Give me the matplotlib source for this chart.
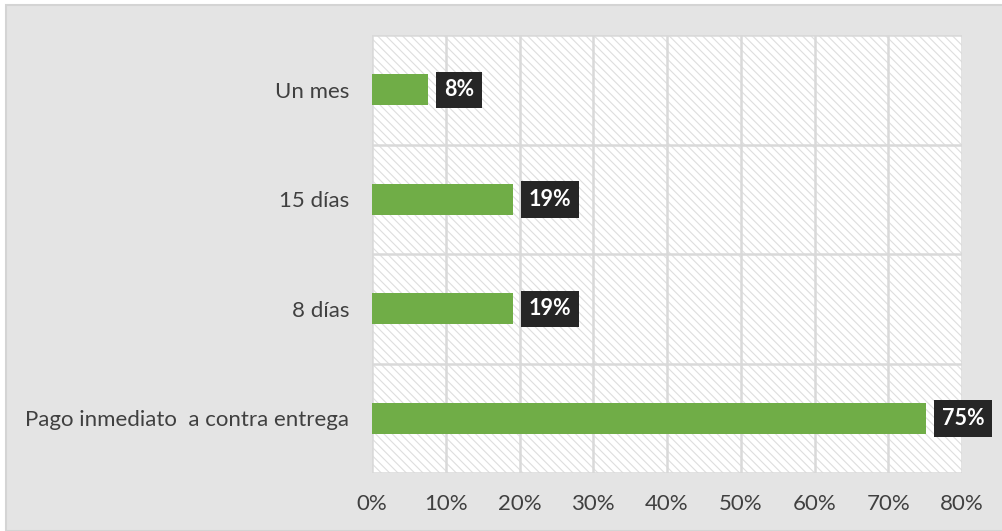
import matplotlib.pyplot as plt
from matplotlib.patches import Rectangle

categories = ['Pago inmediato  a contra entrega', '8 días', '15 días', 'Un mes']
values = [75.1, 19.1, 19.1, 7.6]
labels = ['75%', '19%', '19%', '8%']
xticks = [0, 10, 20, 30, 40, 50, 60, 70, 80]

plt.rcParams['font.family'] = ['Lato', 'DejaVu Sans']

fig = plt.figure(figsize=(10.03, 5.31), dpi=100, facecolor='white')
# gray chart area with thin border
fig.patches.append(Rectangle((6 / 1003, 0), 1, 1 - 5 / 531, transform=fig.transFigure,
                             facecolor='#e4e4e4', edgecolor='#d4d4d4', lw=1.5, zorder=-10))

ax = fig.add_axes([372 / 1003, 1 - 473 / 531, 590 / 1003, 438 / 531])
ax.set_facecolor('white')
plt.rcParams['hatch.linewidth'] = 0.8
ax.add_patch(Rectangle((0, 0), 1, 1, transform=ax.transAxes, facecolor='white',
                       edgecolor='#dedede', hatch='\\\\\\\\', lw=0, zorder=0))

y = range(len(categories))
ax.barh(y, values, height=0.28, color='#70ad47', zorder=3)

for yi, v, lab in zip(y, values, labels):
    ax.annotate(lab, (v, yi), xytext=(11.5, 0), textcoords='offset points',
                ha='left', va='center', color='white', fontsize=15.5, fontweight='bold',
                bbox=dict(boxstyle='square,pad=0.36', facecolor='#262626', edgecolor='none'),
                zorder=4)

ax.set_xlim(0, 80)
ax.set_ylim(-0.5, len(categories) - 0.5)
ax.set_xticks(xticks)
ax.set_xticklabels([f'{t}%' for t in xticks])
ax.set_yticks(list(y))
ax.set_yticklabels(categories)
ax.set_yticks([-0.5, 0.5, 1.5, 2.5, 3.5], minor=True)

ax.grid(True, axis='x', color='#d9d9d9', lw=1.8, zorder=1)
ax.grid(True, axis='y', which='minor', color='#d9d9d9', lw=1.8, zorder=1)
ax.tick_params(axis='both', which='both', length=0, labelsize=16, labelcolor='#404040')
ax.tick_params(axis='x', pad=15)
ax.tick_params(axis='y', pad=16.5)
for s in ax.spines.values():
    s.set_visible(False)

fig.savefig('out.png', dpi=100)
